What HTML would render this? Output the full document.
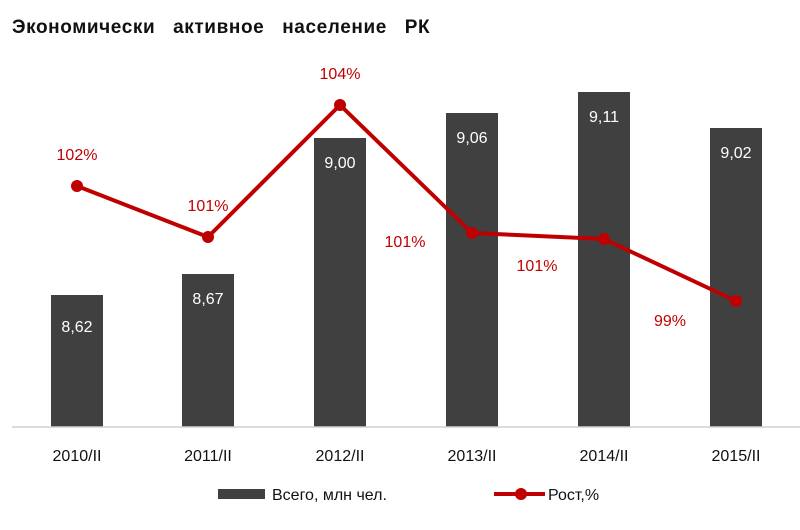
<!DOCTYPE html><html><head><meta charset="utf-8"><style>body{margin:0;background:#fff}svg{display:block;font-family:"Liberation Sans","DejaVu Sans",sans-serif}</style></head><body>
<svg width="800" height="530" viewBox="0 0 800 530">
<text x="12" y="33" font-size="19" font-weight="bold" fill="#111" word-spacing="12" letter-spacing="0.6">Экономически активное население РК</text>
<g fill="#404040">
<rect x="51" y="295" width="52" height="132"/>
<rect x="182" y="274" width="52" height="153"/>
<rect x="314" y="138" width="52" height="289"/>
<rect x="446" y="113" width="52" height="314"/>
<rect x="578" y="92" width="52" height="335"/>
<rect x="710" y="128" width="52" height="299"/>
</g>
<line x1="12" y1="427" x2="800" y2="427" stroke="#d0d0d0" stroke-width="1.5"/>
<g fill="#fff" font-size="16" text-anchor="middle">
<text x="77" y="332">8,62</text><text x="208" y="304">8,67</text><text x="340" y="168">9,00</text>
<text x="472" y="143">9,06</text><text x="604" y="122">9,11</text><text x="736" y="158">9,02</text>
</g>
<g fill="#111" font-size="16" text-anchor="middle">
<text x="77" y="461">2010/II</text><text x="208" y="461">2011/II</text><text x="340" y="461">2012/II</text>
<text x="472" y="461">2013/II</text><text x="604" y="461">2014/II</text><text x="736" y="461">2015/II</text>
</g>
<polyline points="77,186 208,237 340,105 472,233 604,239 736,301" fill="none" stroke="#c00000" stroke-width="4" stroke-linejoin="round"/>
<g fill="#c00000">
<circle cx="77" cy="186" r="6"/><circle cx="208" cy="237" r="6"/><circle cx="340" cy="105" r="6"/>
<circle cx="472" cy="233" r="6"/><circle cx="604" cy="239" r="6"/><circle cx="736" cy="301" r="6"/>
</g>
<g fill="#c00000" font-size="16" text-anchor="middle">
<text x="77" y="160">102%</text><text x="208" y="211">101%</text><text x="340" y="79">104%</text>
<text x="405" y="247">101%</text><text x="537" y="271">101%</text><text x="670" y="326">99%</text>
</g>
<rect x="218" y="489" width="47" height="10" fill="#404040"/>
<text x="272" y="500" font-size="16" fill="#111">Всего, млн чел.</text>
<line x1="494" y1="494" x2="545" y2="494" stroke="#c00000" stroke-width="4"/>
<circle cx="521" cy="494" r="6" fill="#c00000"/>
<text x="548" y="500" font-size="16" fill="#111">Рост,%</text>
</svg></body></html>
